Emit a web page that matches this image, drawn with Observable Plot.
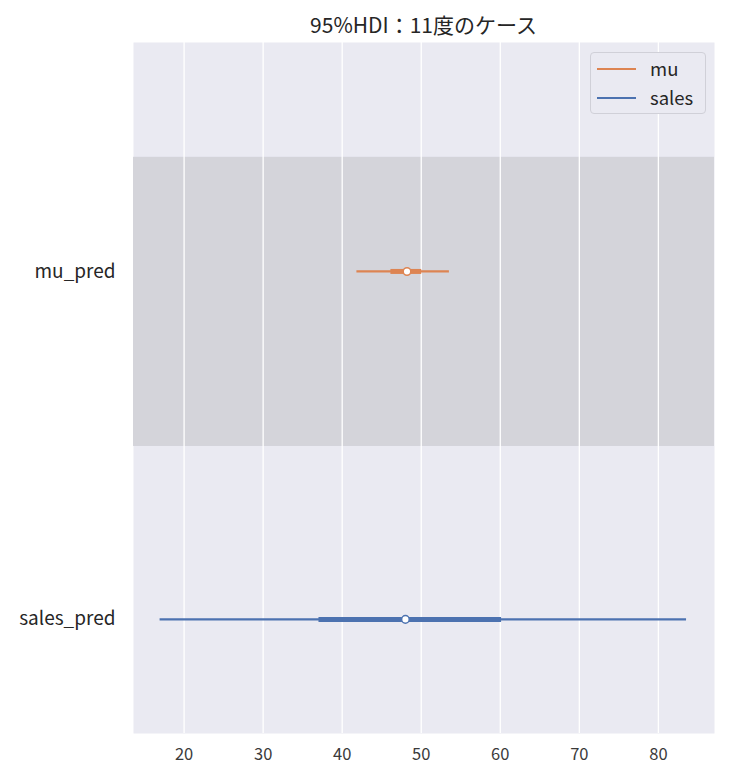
<!DOCTYPE html>
<html>
<head>
<meta charset="utf-8">
<script src="https://cdn.jsdelivr.net/npm/d3@7"></script>
<script src="https://cdn.jsdelivr.net/npm/@observablehq/plot@0.6"></script>
<style>
  body { margin: 0; background: #fff; font-family: "Noto Sans CJK JP", "Noto Sans", sans-serif; }
  #wrap { position: relative; width: 740px; }
  #title { height: 36px; line-height: 48px; padding-left: 133px; width: 581px; text-align: center; font-size: 21px; color: #262626; }
  #legend { position: absolute; left: 590px; top: 52px; width: 114px; height: 60px; border: 1px solid #d0d0d8; border-radius: 4px; background: #eaeaf2; font-size: 18.5px; color: #262626; }
  #legend .item { position: absolute; left: 6px; height: 20px; }
  #legend .swatch { position: absolute; top: 9px; width: 39px; height: 2px; }
  #legend .label { position: absolute; left: 53px; top: -4px; white-space: nowrap; }
</style>
</head>
<body>
<div id="wrap">
  <div id="title">95%HDI：11度のケース</div>
  <div id="chart"></div>
  <div id="legend"></div>
</div>
<script>
// rows of the forest plot, bottom to top
const rows = ["sales_pred", "mu_pred"];
const rowPos = [0, 1];
const rowColor = ["#4C72B0", "#DD8452"];

// 95% HDI, interquartile and median per row
const hdiLow = [16.9, 41.8];
const hdiHigh = [83.5, 53.5];
const iqrLow = [37.0, 46.1];
const iqrHigh = [60.1, 50.0];
const median = [48.0, 48.2];

// shaded band behind mu_pred
const bandLow = [0.497];
const bandHigh = [1.328];

const legendNames = ["mu", "sales"];
const legendColors = ["#DD8452", "#4C72B0"];

const xDomain = [13.6, 87.1];
const xTicks = [20, 30, 40, 50, 60, 70, 80];

const data = rows.map((r, i) => ({
  row: r, y: rowPos[i], color: rowColor[i],
  lo: hdiLow[i], hi: hdiHigh[i], q1: iqrLow[i], q3: iqrHigh[i], med: median[i]
}));
const band = bandLow.map((b, i) => ({ y1: b, y2: bandHigh[i] }));

const chart = Plot.plot({
  width: 740,
  height: 746,
  marginLeft: 133,
  marginRight: 26,
  marginTop: 6,
  marginBottom: 49,
  style: { fontFamily: "'Noto Sans CJK JP', 'Noto Sans', sans-serif", color: "#333" },
  x: { domain: xDomain },
  y: { domain: [-0.328, 1.658] },
  marks: [
    Plot.frame({ fill: "#EAEAF2", stroke: null }),
    Plot.rect(band, { x1: xDomain[0], x2: xDomain[1], y1: "y1", y2: "y2", fill: "#D4D4DA" }),
    Plot.gridX(xTicks, { stroke: "#fff", strokeOpacity: 1, strokeWidth: 1.3 }),
    Plot.axisX(xTicks, { tickSize: 0, tickPadding: 15, fontSize: 16.5, fill: "#3a3a3a" }),
    Plot.axisY(rowPos, { tickSize: 0, tickPadding: 18, fontSize: 19, fill: "#262626", tickFormat: i => rows[i] }),
    Plot.link(data, { x1: "lo", x2: "hi", y1: "y", y2: "y", stroke: "color", strokeWidth: 2.2 }),
    Plot.link(data, { x1: "q1", x2: "q3", y1: "y", y2: "y", stroke: "color", strokeWidth: 5 }),
    Plot.dot(data, { x: "med", y: "y", r: 3.8, fill: "#fff", stroke: "color", strokeWidth: 1.5 })
  ]
});
document.getElementById("chart").append(chart);

const legend = document.getElementById("legend");
legendNames.forEach((n, i) => {
  const item = document.createElement("div");
  item.className = "item";
  item.style.top = (6 + i * 29) + "px";
  item.innerHTML = `<div class="swatch" style="background:${legendColors[i]}"></div><div class="label">${n}</div>`;
  legend.append(item);
});
</script>
</body>
</html>
